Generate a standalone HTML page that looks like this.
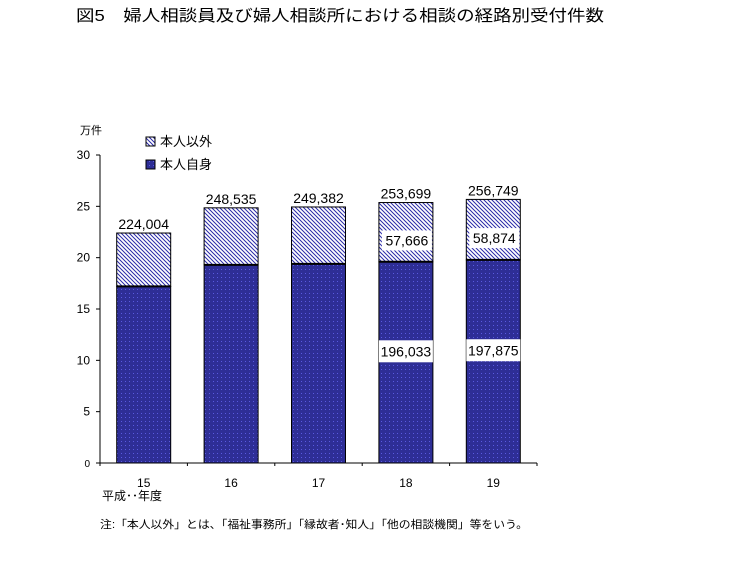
<!DOCTYPE html>
<html><head><meta charset="utf-8"><style>
body{margin:0;background:#fff;}
svg text{font-family:"Liberation Sans","Noto Sans CJK JP",sans-serif;}
</style></head><body>
<svg width="733" height="564" xmlns="http://www.w3.org/2000/svg">
<defs>
<pattern id="hatch" width="4" height="4" patternUnits="userSpaceOnUse">
<rect width="4" height="4" fill="#fff"/>
<path d="M-1,-1 L5,5 M-1,3 L1,5 M3,-1 L5,1" stroke="#2a2aa8" stroke-width="1"/>
</pattern>
<pattern id="dots" width="4" height="4" patternUnits="userSpaceOnUse">
<rect width="4" height="4" fill="#2e2e96"/>
<rect x="1" y="1" width="1" height="1" fill="#5a5ae0"/>
</pattern>
</defs>
<text x="76" y="21" font-size="16" textLength="528" lengthAdjust="spacingAndGlyphs">図5　婦人相談員及び婦人相談所における相談の経路別受付件数</text>
<text x="80" y="134" font-size="11">万件</text>
<g id="axes"></g>
<g id="bars"></g>
<g>
<rect x="146" y="137" width="9" height="9" fill="url(#hatch)" stroke="#000"/>
<text x="160" y="146" font-size="13">本人以外</text>
<rect x="146" y="160" width="9" height="9" fill="url(#dots)" stroke="#000"/>
<text x="160" y="169" font-size="13">本人自身</text>
</g>
<text x="102" y="500" font-size="12">平成･･年度</text>
<text x="100" y="528" font-size="11" textLength="428" lengthAdjust="spacingAndGlyphs">注:「本人以外」とは、「福祉事務所」「縁故者･知人」「他の相談機関」等をいう。</text>
</svg>
<script>
const categories=["15","16","17","18","19"];
const selfVals=[17.2,19.3,19.4,19.6033,19.7875];
const totalVals=[22.4004,24.8535,24.9382,25.3699,25.6749];
const totalLabels=["224,004","248,535","249,382","253,699","256,749"];
const otherLabels=["","","","57,666","58,874"];
const selfLabels=["","","","196,033","197,875"];
const yTicks=[0,5,10,15,20,25,30];
const NS="http://www.w3.org/2000/svg";
const x0=100,x1=537,yB=463,yT=155,yMax=30;
const step=(x1-x0)/categories.length,bw=54;
function y(v){return yB-(yB-yT)*v/yMax;}
function xc(i){return x0+step*(i+0.5);}
function mk(p,t,a){const e=document.createElementNS(NS,t);for(const k in a)e.setAttribute(k,a[k]);p.appendChild(e);return e;}
const ax=document.getElementById('axes'),bg=document.getElementById('bars');
let l=mk(ax,'line',{x1:x0,y1:yT,x2:x0,y2:yB,stroke:'#000'});


l=mk(ax,'line',{x1:x0,y1:yB,x2:x1,y2:yB,stroke:'#000'});


yTicks.forEach(v=>{
 mk(ax,'line',{x1:x0-4,y1:y(v),x2:x0,y2:y(v),stroke:'#000'});
 const t=mk(ax,'text',{x:x0-10,y:y(v)+4,'text-anchor':'end','font-size':v===0?10:12});
 t.textContent=v;
 
 
});
for(let i=0;i<=categories.length;i++)mk(ax,'line',{x1:x0+step*i,y1:yB,x2:x0+step*i,y2:yB+3,stroke:'#000'});
categories.forEach((c,i)=>{
 const cx=xc(i),L=cx-bw/2;
 const s=mk(bg,'rect',{x:L,y:y(selfVals[i]),width:bw,height:yB-y(selfVals[i]),fill:'url(#dots)',stroke:'#000','stroke-width':1});
 
 
 const o=mk(bg,'rect',{x:L,y:y(totalVals[i]),width:bw,height:y(selfVals[i])-y(totalVals[i]),fill:'url(#hatch)',stroke:'#000','stroke-width':1});
 
 
 mk(bg,'line',{x1:L,y1:y(selfVals[i]),x2:L+bw,y2:y(selfVals[i]),stroke:'#000','stroke-width':2});
 let t=mk(bg,'text',{x:cx,y:y(totalVals[i])-4,'text-anchor':'middle','font-size':14});
 t.textContent=totalLabels[i];
 
 
 if(otherLabels[i]){
  const ym=y(selfVals[i]+(totalVals[i]-selfVals[i])*0.36);
  mk(bg,'rect',{x:cx-24,y:ym-10,width:50,height:20,fill:'#fff'});
  t=mk(bg,'text',{x:cx+1,y:ym+5,'text-anchor':'middle','font-size':14});
  t.textContent=otherLabels[i];
  
  
 }
 if(selfLabels[i]){
  const ym=y(selfVals[i]*0.555);
  mk(bg,'rect',{x:cx-27,y:ym-11,width:54,height:22,fill:'#fff'});
  t=mk(bg,'text',{x:cx,y:ym+5,'text-anchor':'middle','font-size':14});
  t.textContent=selfLabels[i];
  
  
 }
 t=mk(ax,'text',{x:cx,y:487,'text-anchor':'middle','font-size':12});
 t.textContent=c;
 
 
});
</script>
</body></html>
